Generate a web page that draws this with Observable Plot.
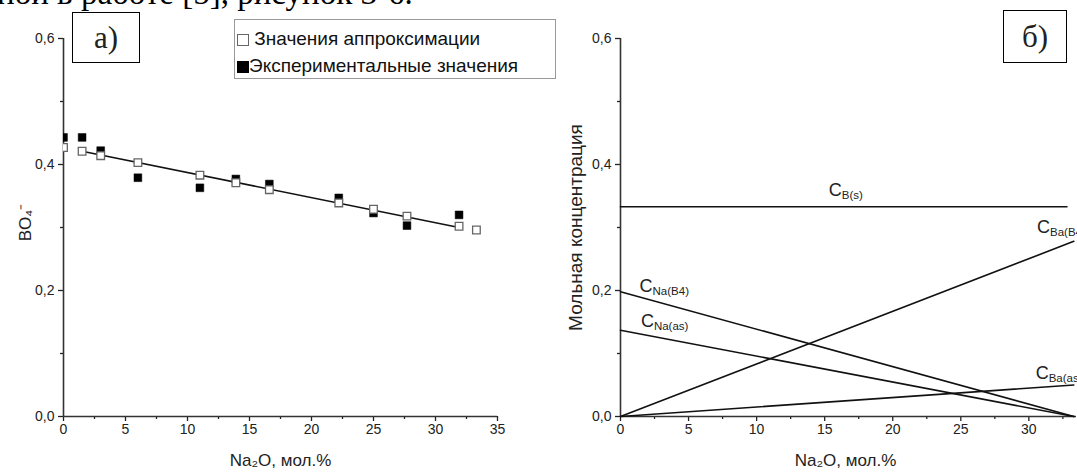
<!DOCTYPE html>
<html><head><meta charset="utf-8">
<script src="https://cdn.jsdelivr.net/npm/d3@7"></script>
<script src="https://cdn.jsdelivr.net/npm/@observablehq/plot@0.6"></script>
<style>
html,body{margin:0;padding:0;background:#fff;overflow:hidden}
#wrap{position:relative;width:1077px;height:474px;overflow:hidden;font-family:"Liberation Sans",Arial,sans-serif;color:#222}
.abs{position:absolute}
.tag{position:absolute;background:#fff;border:1px solid #000;font-family:"Liberation Serif","Times New Roman",serif;font-size:31px;display:flex;align-items:center;justify-content:center;box-sizing:border-box}
#legend{position:absolute;left:234px;top:19px;width:322px;height:60px;border:1px solid #999;background:#fff;box-sizing:border-box;font-size:19px;line-height:27px;padding:5px 0 0 2px;white-space:nowrap;color:#111}
.sq{display:inline-block;width:12px;height:12px;box-sizing:border-box;vertical-align:-1px}
</style></head><body><div id="wrap">
<div id="left" class="abs" style="left:0;top:0"></div>
<div id="right" class="abs" style="left:540px;top:0"></div>
<div class="abs" style="left:-3px;top:-23px;font-family:'Liberation Serif','Times New Roman',serif;font-size:33px;line-height:33px;white-space:nowrap;color:#000">ной в работе [5], рисунок 3-6.</div>
<div class="tag" style="left:72px;top:12px;width:68px;height:51px">а)</div>
<div class="tag" style="left:1003px;top:10px;width:64px;height:53px">б)</div>
<div id="legend"><div><span class="sq" style="border:1px solid #666;background:#fff"></span> Значения аппроксимации</div><div><span class="sq" style="background:#000"></span>Экспериментальные значения</div></div>
</div>
<script>
// ---- panel a) data ----
const naOApprox = [0, 1.5, 3, 6, 11, 13.9, 16.6, 22.2, 25, 27.7, 31.9, 33.3];
const bo4Approx = [0.427, 0.421, 0.414, 0.403, 0.383, 0.371, 0.360, 0.339, 0.329, 0.318, 0.302, 0.296];
const naOExp = [0, 1.5, 3, 6, 11, 13.9, 16.6, 22.2, 25, 27.7, 31.9];
const bo4Exp = [0.443, 0.443, 0.422, 0.379, 0.363, 0.377, 0.369, 0.347, 0.323, 0.303, 0.320];
const fitX = [1.5, 31.9];
const fitY = [0.421, 0.300];
// ---- panel б) data ----
const lineX = [0, 33.3];
const cBsX = [0, 32.8];
const cBs = [0.333, 0.333];
const cNaB4 = [0.198, 0];
const cNaAs = [0.137, 0];
const cBaB4 = [0, 0.278];
const cBaAs = [0, 0.05];
const labelMain = ["C", "C", "C", "C", "C"];
const labelSub = ["B(s)", "Na(B4)", "Na(as)", "Ba(B4)", "Ba(as)"];
const labelX = [15.3, 1.4, 1.5, 30.6, 30.5];
const labelY = [0.359, 0.207, 0.151, 0.300, 0.068];
// ---- ticks ----
const yMajor = [0, 0.2, 0.4, 0.6];
const yMinor = [0.1, 0.3, 0.5];
const xMajorA = [0, 5, 10, 15, 20, 25, 30, 35];
const xMinorA = [2.5, 7.5, 12.5, 17.5, 22.5, 27.5, 32.5];
const xMajorB = [0, 5, 10, 15, 20, 25, 30];
const xMinorB = [2.5, 7.5, 12.5, 17.5, 22.5, 27.5, 32.5];

const fmt = d => d.toFixed(1).replace(".", ",");
const axisStyle = {fontFamily: "Liberation Sans, Arial, sans-serif", fontSize: "14px", color: "#222", background: "transparent", overflow: "visible"};

function axes(xMajor, xMinor) {
  return [
    Plot.axisX({ticks: xMajor, tickSize: 5, tickPadding: 3, label: null, strokeWidth: 1.3, tickFormat: d => String(d)}),
    Plot.axisX({ticks: xMinor, tickSize: 3, text: null, label: null, strokeWidth: 1.3}),
    Plot.axisY({ticks: yMajor, tickSize: 5, tickPadding: 4, label: null, tickFormat: fmt, strokeWidth: 1.3}),
    Plot.axisY({ticks: yMinor, tickSize: 3, text: null, label: null, strokeWidth: 1.3}),
    Plot.ruleX([0], {stroke: "#333", strokeWidth: 1.6}),
    Plot.ruleY([0], {stroke: "#333", strokeWidth: 1.6})
  ];
}

const left = Plot.plot({
  width: 540, height: 474,
  marginLeft: 63, marginRight: 43, marginTop: 38, marginBottom: 58,
  x: {domain: [0, 35]}, y: {domain: [0, 0.6]},
  style: axisStyle,
  marks: [
    ...axes(xMajorA, xMinorA),
    Plot.line(fitX, {x: fitX, y: fitY, stroke: "#111", strokeWidth: 1.6}),
    Plot.dot(naOExp, {x: naOExp, y: bo4Exp, symbol: "square", r: 4.4, fill: "#000", stroke: "#000", strokeWidth: 0.5, clip: true}),
    Plot.dot(naOApprox, {x: naOApprox, y: bo4Approx, symbol: "square", r: 4.3, fill: "#fff", stroke: "#666", strokeWidth: 1.3, clip: true}),
    Plot.text(["Na₂O, мол.%"], {frameAnchor: "bottom", dy: 49, fontSize: 17, fill: "#222"}),
    Plot.text(["BO₄⁻"], {frameAnchor: "left", dx: -38, dy: -5, rotate: -90, textAnchor: "middle", fontSize: 17, fill: "#222"})
  ]
});
document.getElementById("left").append(left);

const right = Plot.plot({
  width: 537, height: 474,
  marginLeft: 80, marginRight: 1, marginTop: 38, marginBottom: 58,
  x: {domain: [0, 33.5]}, y: {domain: [0, 0.6]},
  style: axisStyle,
  marks: [
    ...axes(xMajorB, xMinorB),
    Plot.line(cBsX, {x: cBsX, y: cBs, stroke: "#111", strokeWidth: 1.6}),
    Plot.line(lineX, {x: lineX, y: cNaB4, stroke: "#111", strokeWidth: 1.6}),
    Plot.line(lineX, {x: lineX, y: cNaAs, stroke: "#111", strokeWidth: 1.6}),
    Plot.line(lineX, {x: lineX, y: cBaB4, stroke: "#111", strokeWidth: 1.6}),
    Plot.line(lineX, {x: lineX, y: cBaAs, stroke: "#111", strokeWidth: 1.6}),
    Plot.text(labelMain, {x: labelX, y: labelY, text: labelMain, textAnchor: "start", fontSize: 18, fill: "#222"}),
    Plot.text(labelSub, {x: labelX, y: labelY, text: labelSub, textAnchor: "start", dx: 13, dy: 5, fontSize: 11.5, fill: "#222"}),
    Plot.text(["Na₂O, мол.%"], {frameAnchor: "bottom", dy: 49, dx: -3, fontSize: 17, fill: "#222"}),
    Plot.text(["Мольная концентрация"], {frameAnchor: "left", dx: -45, rotate: -90, textAnchor: "middle", fontSize: 19, fill: "#222"})
  ]
});
document.getElementById("right").append(right);
</script>
</body></html>
